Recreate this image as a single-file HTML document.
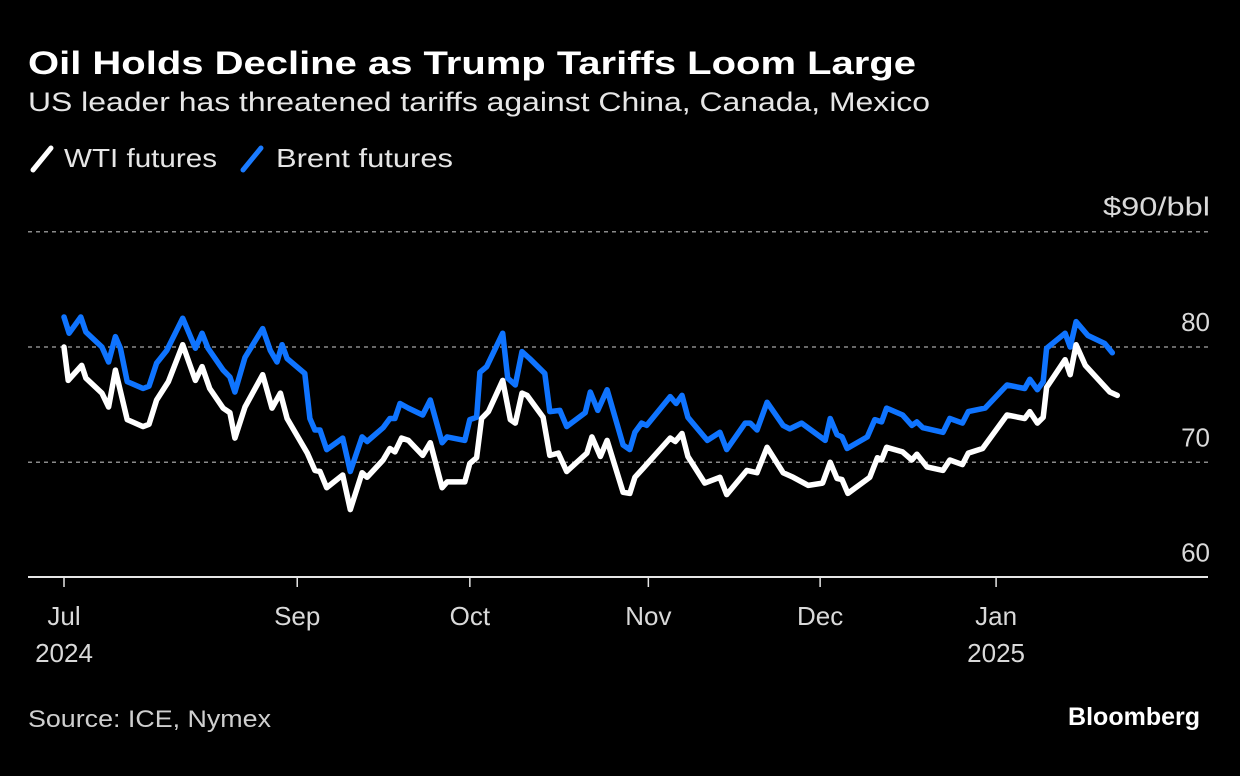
<!DOCTYPE html>
<html><head><meta charset="utf-8"><style>
html,body{margin:0;padding:0;background:#000;}
svg{display:block;font-family:"Liberation Sans",sans-serif;}
</style></head><body>
<svg id="chart" width="1240" height="776" viewBox="0 0 1240 776">
<rect width="1240" height="776" fill="#000"/>
<text x="28" y="74" fill="#fff" font-size="32" font-weight="bold" textLength="888" lengthAdjust="spacingAndGlyphs">Oil Holds Decline as Trump Tariffs Loom Large</text>
<text x="28" y="111" fill="#e6e6e6" font-size="27" textLength="902" lengthAdjust="spacingAndGlyphs">US leader has threatened tariffs against China, Canada, Mexico</text>
<g>
<g><line x1="33" y1="170" x2="51" y2="148" stroke="#fff" stroke-width="5" stroke-linecap="round"/><text x="64" y="167" fill="#e6e6e6" font-size="26" textLength="153" lengthAdjust="spacingAndGlyphs">WTI futures</text></g>
<g><line x1="243" y1="170" x2="261" y2="148" stroke="#1a7bff" stroke-width="5" stroke-linecap="round"/><text x="276" y="167" fill="#e6e6e6" font-size="26" textLength="177" lengthAdjust="spacingAndGlyphs">Brent futures</text></g>
</g>
<g id="grid"></g>
<g id="yticks"></g>
<g id="xaxis"></g>
<g id="series"></g>
<text x="28" y="727" fill="#cfcfcf" font-size="24" textLength="243" lengthAdjust="spacingAndGlyphs">Source: ICE, Nymex</text>
<text x="1200" y="725" fill="#fff" font-size="25" font-weight="bold" text-anchor="end">Bloomberg</text>
</svg>
<script>
const yTicks = [60, 70, 80, 90];
const xTickLabels = ["Jul", "Sep", "Oct", "Nov", "Dec", "Jan"];
const xTickYears = ["2024", "", "", "", "", "2025"];
const xTickDays = [0, 27.7, 48.2, 69.4, 89.8, 110.7];
const wtiDays = [0,0.5,2.1,2.6,4.5,5.3,6.1,7.5,9.4,10.1,11.0,12.4,14.1,15.6,16.4,17.3,18.9,19.7,20.3,21.5,23.6,24.7,25.7,26.5,28.9,29.8,30.4,31.2,33.1,34.0,35.4,36.0,37.9,38.7,39.3,40.1,40.9,42.6,43.5,44.9,45.5,47.6,48.2,49.0,49.6,50.4,52.1,53.0,53.6,54.4,55.0,56.9,57.7,58.7,59.7,62.1,62.7,63.7,64.5,66.4,67.2,67.8,68.8,72.0,72.6,73.4,74.1,76.1,77.9,78.7,81.1,82.3,83.5,85.4,86.6,88.4,90.1,91.0,91.8,92.4,93.1,95.7,96.6,97.1,97.7,99.6,100.7,101.3,102.5,104.4,105.2,106.7,107.4,109.1,112.0,114.1,114.7,115.6,116.3,116.7,118.9,119.5,120.2,121.3,124.2,125.1];
const wtiPrices = [80.0,77.1,78.4,77.3,76.0,74.8,78.0,73.7,73.1,73.3,75.4,77.0,80.2,77.1,78.3,76.4,74.7,74.3,72.1,74.8,77.6,74.7,76.0,73.8,70.8,69.3,69.2,67.8,68.9,65.9,69.1,68.7,70.2,71.2,70.9,72.1,71.9,70.6,71.7,67.8,68.3,68.3,69.9,70.4,73.8,74.4,77.1,73.7,73.4,76.0,75.8,73.9,70.6,70.8,69.2,70.8,72.2,70.5,71.9,67.4,67.3,68.7,69.5,72.1,71.8,72.5,70.5,68.2,68.7,67.2,69.3,69.1,71.3,69.1,68.7,68.0,68.2,70.0,68.6,68.5,67.3,68.7,70.4,70.2,71.3,70.9,70.2,70.7,69.6,69.3,70.2,69.8,70.8,71.2,74.1,73.8,74.4,73.4,73.9,76.5,78.9,77.6,80.2,78.4,76.1,75.8];
const brentDays = [0,0.6,2.0,2.6,4.5,5.3,6.1,6.7,7.5,9.4,10.1,11.0,12.2,14.1,15.6,16.4,17.1,18.9,19.7,20.3,21.5,23.6,24.5,25.3,25.9,26.5,28.6,29.2,29.8,30.4,31.2,33.1,34.0,35.4,36.0,37.9,38.7,39.3,39.9,40.9,42.6,43.5,44.9,45.5,47.6,48.2,49.0,49.4,50.2,52.1,52.7,53.6,54.4,55.3,57.1,57.7,58.9,59.7,61.9,62.5,63.4,64.5,66.4,67.2,67.8,68.6,69.2,72.0,72.7,73.4,74.1,76.4,77.9,78.7,80.9,81.5,82.3,83.5,85.4,86.2,87.6,90.4,91.0,91.8,92.4,93.0,95.4,96.3,97.1,97.7,99.6,100.7,101.3,102.0,104.4,105.2,106.7,107.4,109.4,112.0,114.1,114.7,115.6,116.3,116.7,118.9,119.5,120.2,121.6,123.6,124.5];
const brentPrices = [82.6,81.2,82.6,81.3,80.0,78.7,80.9,79.9,77.0,76.4,76.6,78.6,79.7,82.5,79.9,81.2,79.9,78.0,77.4,76.1,79.1,81.6,79.7,78.7,80.2,79.0,77.7,73.8,72.8,72.8,71.1,72.1,69.2,72.2,71.8,73.0,73.8,73.8,75.1,74.7,74.1,75.4,71.7,72.2,71.9,73.7,73.9,77.8,78.3,81.2,77.3,76.7,79.6,79.0,77.7,74.4,74.5,73.1,74.3,76.1,74.5,76.3,71.5,71.1,72.6,73.4,73.2,75.7,75.1,75.8,73.9,71.9,72.6,71.1,73.4,73.4,72.8,75.2,73.2,72.9,73.4,71.9,73.8,72.4,72.2,71.2,72.2,73.7,73.5,74.7,74.1,73.2,73.5,73.0,72.6,73.8,73.4,74.4,74.7,76.7,76.4,77.2,76.3,77.0,79.9,81.2,80.0,82.2,81.0,80.3,79.5];

const NS = "http://www.w3.org/2000/svg";
const X0 = 64, XSTEP = 8.42;
const xScale = d => X0 + d * XSTEP;
const yScale = v => 347 - (v - 80) * 11.53;
function mk(tag, attrs, parent) {
  const e = document.createElementNS(NS, tag);
  for (const k in attrs) e.setAttribute(k, attrs[k]);
  parent.appendChild(e);
  return e;
}
const grid = document.getElementById('grid');
const yt = document.getElementById('yticks');
yTicks.forEach(v => {
  if (v > 60) {
    const l = mk('line', {x1: 28, x2: 1208, y1: yScale(v), y2: yScale(v), stroke: '#8a8a8a', 'stroke-width': 1.5, 'stroke-dasharray': '4 4'}, grid);
    
    
  }
  const attrs = {x: 1210, y: yScale(v) - 16, fill: '#d9d9d9', 'font-size': 26, 'text-anchor': 'end'};
  if (v === 90) { attrs.textLength = 107; attrs.lengthAdjust = 'spacingAndGlyphs'; }
  const t = mk('text', attrs, yt);
  t.textContent = v === 90 ? '$90/bbl' : String(v);
  
  
});
const xa = document.getElementById('xaxis');
const axl = mk('line', {x1: 28, x2: 1208, y1: 577, y2: 577, stroke: '#e6e6e6', 'stroke-width': 2}, xa);


xTickLabels.forEach((lab, i) => {
  const x = xScale(xTickDays[i]);
  const tk = mk('line', {x1: x, x2: x, y1: 577, y2: 587, stroke: '#e6e6e6', 'stroke-width': 1.5}, xa);
  
  
  const t = mk('text', {x: x, y: 625, fill: '#d9d9d9', 'font-size': 26, 'text-anchor': 'middle'}, xa);
  t.textContent = lab;
  
  
  if (xTickYears[i]) {
    const ty = mk('text', {x: x, y: 662, fill: '#d9d9d9', 'font-size': 26, 'text-anchor': 'middle'}, xa);
    ty.textContent = xTickYears[i];
    
    
  }
});
const sg = document.getElementById('series');
function line(days, vals, color, name) {
  const pts = days.map((d, i) => xScale(d).toFixed(1) + ',' + yScale(vals[i]).toFixed(1)).join(' ');
  const p = mk('polyline', {points: pts, fill: 'none', stroke: color, 'stroke-width': 5.5, 'stroke-linejoin': 'round', 'stroke-linecap': 'round'}, sg);
  
  
}
line(brentDays, brentPrices, '#0f74ff', 'brent-line');
line(wtiDays, wtiPrices, '#ffffff', 'wti-line');
</script>
</body></html>
